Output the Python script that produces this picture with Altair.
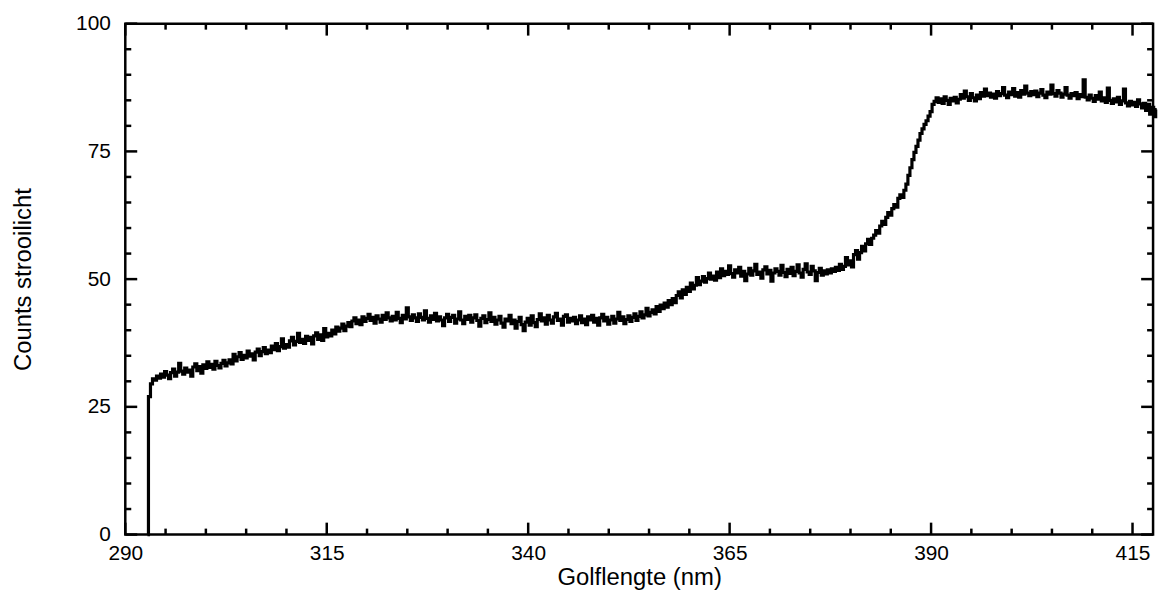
import altair as alt
import pandas as pd

# Sampling grid of the trace (nm)
WL_FIRST = 292.75          # trace leaves the baseline here
WL_START = 293.0
WL_STEP = 0.25

# Counts, one row per 5 nm (20 samples of 0.25 nm)
ROW_293 = [27.0, 29.5, 30.5, 30.2, 31.0, 30.6, 31.4, 30.8, 31.9, 31.2, 30.5, 31.7, 32.4, 31.0, 31.8, 33.5, 32.0, 31.4, 32.6, 31.8]
ROW_298 = [32.2, 31.0, 32.8, 33.4, 32.1, 32.9, 31.6, 33.2, 32.5, 33.8, 32.7, 33.3, 32.4, 33.9, 33.1, 32.6, 33.5, 34.1, 33.0, 33.6]
ROW_303 = [34.2, 33.4, 35.3, 34.0, 34.8, 35.6, 34.3, 35.1, 34.6, 35.9, 34.9, 35.4, 34.2, 35.7, 36.3, 35.0, 35.8, 36.6, 35.4, 36.1]
ROW_308 = [35.6, 36.9, 36.2, 37.4, 36.0, 36.8, 38.3, 36.5, 37.2, 36.7, 37.9, 38.6, 37.1, 37.8, 39.4, 37.6, 38.2, 37.4, 38.8, 38.0]
ROW_313 = [38.6, 37.3, 38.9, 39.5, 38.2, 39.1, 38.0, 40.3, 38.7, 39.4, 38.9, 40.0, 39.3, 40.6, 39.8, 40.4, 41.2, 39.9, 40.8, 41.5]
ROW_318 = [40.7, 41.8, 42.4, 41.3, 42.0, 41.1, 42.6, 41.7, 42.3, 43.1, 41.9, 42.5, 41.4, 42.8, 42.2, 41.6, 42.9, 42.1, 43.4, 42.4]
ROW_323 = [41.8, 42.7, 42.0, 43.5, 42.3, 41.5, 42.9, 42.2, 44.4, 42.6, 41.9, 43.0, 42.4, 41.7, 43.2, 42.5, 42.0, 43.8, 42.3, 41.6]
ROW_328 = [42.8, 42.1, 43.3, 41.8, 42.6, 42.0, 40.9, 42.4, 43.1, 41.7, 42.5, 42.9, 41.4, 42.2, 43.6, 42.0, 41.3, 42.7, 42.1, 42.9]
ROW_333 = [41.6, 42.4, 43.0, 41.9, 40.8, 42.3, 42.8, 41.5, 42.1, 43.4, 41.7, 42.5, 41.2, 42.0, 42.7, 41.4, 40.6, 42.2, 41.8, 42.9]
ROW_338 = [41.3, 42.0, 40.4, 41.7, 42.5, 41.1, 39.9, 41.6, 42.3, 41.0, 42.8, 41.5, 40.7, 42.1, 43.2, 41.8, 42.4, 41.2, 42.9, 42.0]
ROW_343 = [41.4, 42.6, 43.3, 41.9, 42.2, 41.0, 42.7, 43.0, 41.6, 42.3, 41.8, 42.5, 41.3, 42.0, 42.8, 41.5, 42.2, 41.1, 42.6, 42.0]
ROW_348 = [42.9, 41.6, 42.3, 41.0, 42.4, 43.1, 41.8, 42.5, 41.2, 42.0, 42.7, 41.4, 42.2, 43.5, 41.9, 42.6, 41.3, 42.1, 42.8, 41.7]
ROW_353 = [42.5, 43.2, 41.9, 42.7, 43.6, 42.4, 43.0, 44.3, 42.8, 43.5, 44.0, 43.2, 44.6, 43.7, 44.9, 44.2, 45.3, 44.5, 45.8, 45.0]
ROW_358 = [46.2, 45.4, 46.8, 47.5, 46.3, 47.9, 47.0, 48.4, 47.6, 49.2, 48.1, 48.8, 50.3, 48.9, 49.6, 50.5, 49.4, 50.1, 51.2, 50.0]
ROW_363 = [50.6, 49.8, 51.4, 50.3, 52.0, 50.7, 51.5, 50.9, 52.6, 51.1, 50.4, 51.8, 51.2, 52.3, 50.6, 51.5, 49.7, 51.0, 52.1, 50.8]
ROW_368 = [51.6, 52.9, 50.9, 51.4, 50.2, 51.8, 52.4, 51.0, 51.7, 49.6, 51.2, 52.0, 51.5, 50.8, 52.7, 51.3, 50.5, 51.9, 51.1, 52.3]
ROW_373 = [50.7, 51.5, 52.8, 51.2, 50.4, 51.9, 53.0, 51.4, 50.9, 52.5, 51.6, 49.7, 51.3, 52.1, 50.8, 51.6, 51.0, 51.8, 51.2, 52.0]
ROW_378 = [51.5, 52.3, 51.7, 52.9, 51.9, 52.5, 54.2, 52.8, 53.6, 52.4, 54.8, 55.6, 53.9, 55.2, 56.4, 55.5, 56.9, 57.8, 56.8, 58.0]
ROW_383 = [58.6, 59.5, 59.0, 60.4, 61.3, 60.7, 62.1, 63.0, 62.5, 63.8, 64.6, 64.1, 65.8, 66.5, 66.0, 67.4, 68.6, 70.3, 71.8, 73.4]
ROW_388 = [74.8, 76.0, 77.2, 78.5, 79.4, 80.3, 81.0, 81.9, 82.8, 84.2, 84.8, 85.5, 84.6, 85.3, 84.4, 85.7, 85.0, 84.2, 85.4, 84.9]
ROW_393 = [85.6, 84.5, 85.2, 86.1, 85.4, 86.8, 85.7, 85.0, 86.3, 85.5, 84.9, 86.0, 85.3, 86.5, 85.8, 87.2, 85.9, 86.4, 85.6, 86.2]
ROW_398 = [85.4, 86.7, 85.9, 86.3, 87.5, 86.0, 85.5, 86.6, 86.1, 87.3, 85.8, 86.5, 85.6, 86.9, 86.2, 87.8, 86.4, 85.9, 86.7, 86.1]
ROW_403 = [86.8, 85.7, 86.4, 87.1, 86.0, 85.5, 86.6, 86.2, 88.0, 86.3, 85.8, 86.9, 86.4, 85.6, 86.2, 87.5, 86.0, 85.4, 86.3, 85.9]
ROW_408 = [86.5, 85.3, 86.1, 85.7, 89.0, 85.6, 85.1, 86.0, 85.4, 84.8, 85.9, 85.2, 86.6, 84.9, 85.5, 84.6, 87.4, 85.0, 84.4, 85.3]
ROW_413 = [84.7, 85.6, 84.2, 84.9, 87.2, 84.5, 83.9, 84.8, 84.1, 84.6, 83.8, 85.1, 84.3, 83.5, 84.4, 83.0, 84.2, 82.3, 83.6, 81.8]
ROW_418 = [83.2]

ROWS = [ROW_293, ROW_298, ROW_303, ROW_308, ROW_313, ROW_318, ROW_323, ROW_328,
        ROW_333, ROW_338, ROW_343, ROW_348, ROW_353, ROW_358, ROW_363, ROW_368,
        ROW_373, ROW_378, ROW_383, ROW_388, ROW_393, ROW_398, ROW_403, ROW_408,
        ROW_413, ROW_418]

X_LABELS = [290, 315, 340, 365, 390, 415]
X_MINOR = [295, 300, 305, 310, 320, 325, 330, 335, 345, 350, 355, 360,
           370, 375, 380, 385, 395, 400, 405, 410]
Y_LABELS = [0, 25, 50, 75, 100]
Y_MINOR = [5, 10, 15, 20, 30, 35, 40, 45, 55, 60, 65, 70, 80, 85, 90, 95]

counts = [0.0] + [v for row in ROWS for v in row]
wl = [WL_FIRST] + [WL_START + i * WL_STEP for i in range(len(counts) - 1)]
df = pd.DataFrame({"wl": wl, "c": counts})

X_MIN, X_MAX = 290, 417.55
Y_MIN, Y_MAX = 0, 100
W, H = 1034, 514
PX_X = W / (X_MAX - X_MIN)     # pixels per nm
PX_Y = H / (Y_MAX - Y_MIN)     # pixels per count
MAJ, MIN = 12, 6               # tick lengths in pixels
FONT = "Liberation Sans"

# Inward tick segments on all four sides, built from the tick lists
segs = []
for vals, length in ((X_LABELS, MAJ), (X_MINOR, MIN)):
    d = length / PX_Y
    for v in vals:
        segs.append({"wl": v, "wl2": v, "c": Y_MIN, "c2": Y_MIN + d})
        segs.append({"wl": v, "wl2": v, "c": Y_MAX, "c2": Y_MAX - d})
for vals, length in ((Y_LABELS, MAJ), (Y_MINOR, MIN)):
    d = length / PX_X
    for v in vals:
        segs.append({"wl": X_MIN, "wl2": X_MIN + d, "c": v, "c2": v})
        segs.append({"wl": X_MAX, "wl2": X_MAX - d, "c": v, "c2": v})
ticks_df = pd.DataFrame(segs)

xscale = alt.Scale(domain=[X_MIN, X_MAX], nice=False, zero=False)
yscale = alt.Scale(domain=[Y_MIN, Y_MAX], nice=False, zero=False)

xaxis = alt.Axis(values=X_LABELS, labelFlush=False, labelPadding=8,
                 titleY=31, titleBaseline="top")
yaxis = alt.Axis(values=Y_LABELS, labelFlush=False, labelPadding=15,
                 titleX=-90, titleBaseline="bottom")

line = alt.Chart(df).mark_line(color="black", strokeWidth=3.2, interpolate="step").encode(
    x=alt.X("wl:Q", scale=xscale, title="Golflengte (nm)", axis=xaxis),
    y=alt.Y("c:Q", scale=yscale, title="Counts strooilicht", axis=yaxis),
)

ticks = alt.Chart(ticks_df).mark_rule(color="black", strokeWidth=2.5).encode(
    x=alt.X("wl:Q", scale=xscale, title="Golflengte (nm)", axis=xaxis),
    x2="wl2:Q",
    y=alt.Y("c:Q", scale=yscale, title="Counts strooilicht", axis=yaxis),
    y2="c2:Q",
)

chart = alt.layer(line, ticks).properties(
    width=W, height=H,
    padding={"left": 4, "top": 3, "right": 0, "bottom": 0},
).configure_view(
    stroke="black", strokeWidth=2.5
).configure_axis(
    domain=False, ticks=False, grid=False,
    labelFont=FONT, labelFontSize=21, labelColor="black",
    titleFont=FONT, titleFontSize=24, titleFontWeight="normal", titleColor="black",
)

chart.save("out.html", embed_options={"renderer": "svg", "actions": False})
